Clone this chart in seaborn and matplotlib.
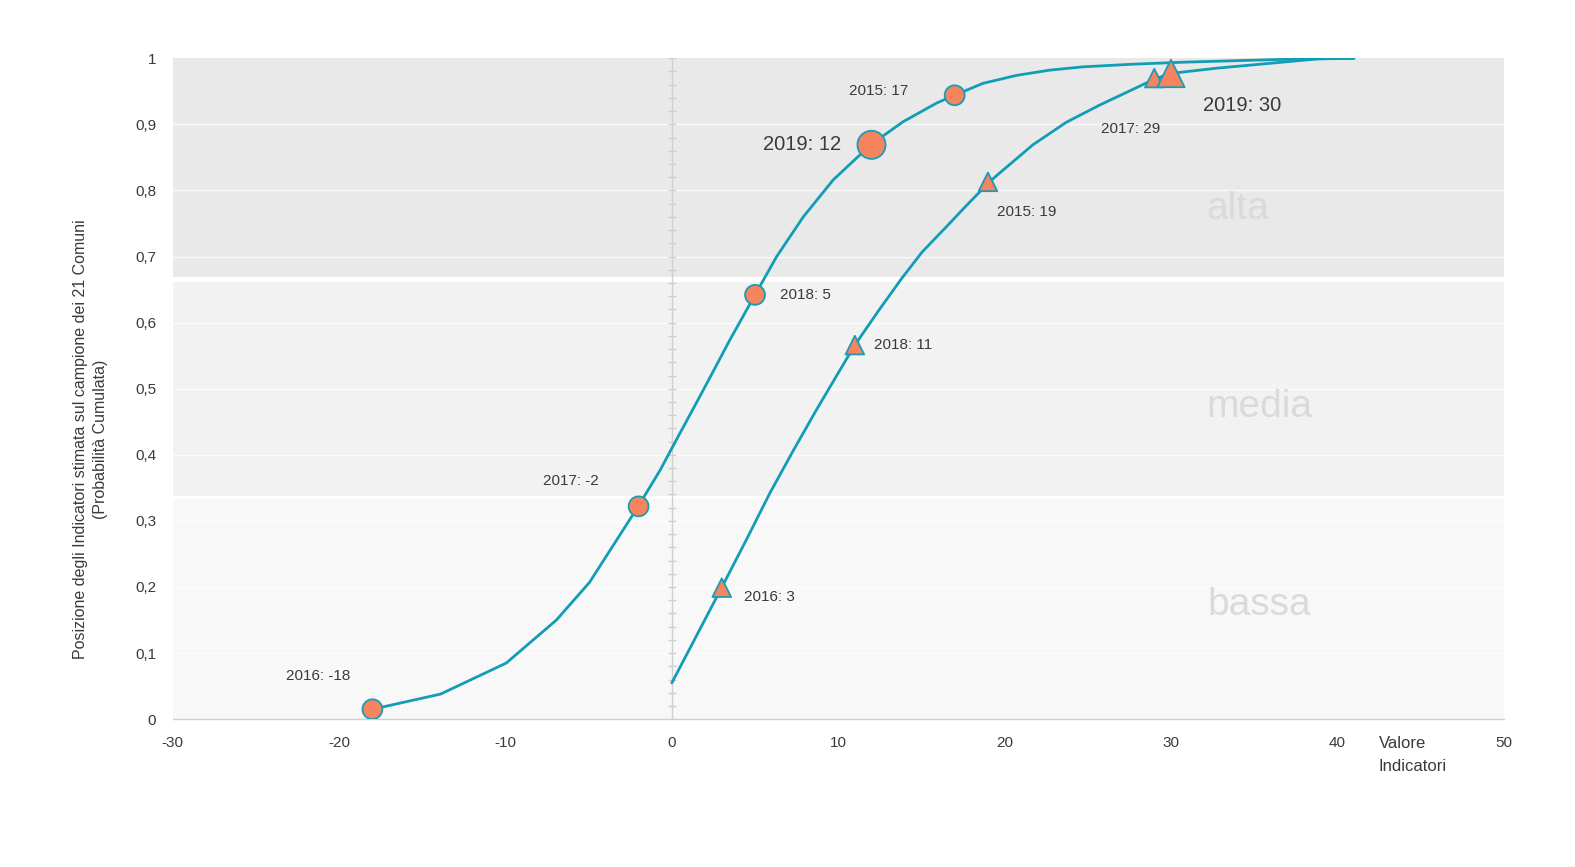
import matplotlib
matplotlib.use("Agg")
import matplotlib.pyplot as plt
import matplotlib.transforms as mtransforms
import numpy as np
import pandas as pd
import seaborn as sns

# ---------------- data ----------------
# curve A (circles)
curve_a_x = [-18, -13.9, -9.95, -6.94, -4.95, -2.02, -0.7, 0, 1.89, 3.49, 5.0, 6.3, 7.9, 9.7,
             11.95, 13.9, 15.9, 16.98, 18.7, 20.7, 22.7, 24.7, 27.7, 30.7, 34.8, 37.9, 41]
curve_a_y = [0.015, 0.038, 0.085, 0.150, 0.207, 0.322, 0.377, 0.410, 0.498, 0.574, 0.642, 0.700, 0.760, 0.816,
             0.869, 0.904, 0.932, 0.944, 0.962, 0.974, 0.982, 0.987, 0.991, 0.994, 0.997, 0.999, 1.0]
# curve B (triangles)
curve_b_x = [0, 1.29, 2.95, 4.49, 5.89, 7.29, 8.69, 10.1, 11.0, 12.45, 13.85, 15.05, 16.5, 17.7, 18.98,
             19.5, 21.7, 23.7, 25.7, 27.3, 28.97, 29.98, 32.75, 35.8, 38.8, 41]
curve_b_y = [0.055, 0.117, 0.197, 0.272, 0.342, 0.406, 0.468, 0.528, 0.566, 0.619, 0.668, 0.707, 0.745, 0.777,
             0.810, 0.822, 0.869, 0.903, 0.929, 0.948, 0.968, 0.977, 0.985, 0.992, 0.999, 1.0]

# points with labels
pts_a_year = ["2016", "2017", "2018", "2019", "2015"]
pts_a_x = [-18, -2, 5, 12, 17]
pts_a_y = [0.015, 0.322, 0.642, 0.869, 0.944]

pts_b_year = ["2016", "2018", "2015", "2017", "2019"]
pts_b_x = [3, 11, 19, 29, 30]
pts_b_y = [0.199, 0.566, 0.813, 0.970, 0.977]

band_names = ["bassa", "media", "alta"]
band_lo = [0.0, 0.338, 0.669]
band_hi = [0.333, 0.662, 1.0]

x_ticks = [-30, -20, -10, 0, 10, 20, 30, 40, 50]
y_ticks = [0, 0.1, 0.2, 0.3, 0.4, 0.5, 0.6, 0.7, 0.8, 0.9, 1.0]
y_tick_labels = ["0", "0,1", "0,2", "0,3", "0,4", "0,5", "0,6", "0,7", "0,8", "0,9", "1"]

# ---------------- style ----------------
sns.set_theme(style="white")
plt.rcParams["font.family"] = ["Liberation Sans Narrow", "Liberation Sans", "DejaVu Sans"]

LINE = "#119db6"
FILL = "#f5845f"
EDGE = "#1a9cb3"
TXT = "#3a3a3a"

fig = plt.figure(figsize=(15.75, 8.67), dpi=100)
ax = fig.add_axes([0.1097, 0.1705, 0.8450, 0.7623])

band_colors = ["#f8f8f8", "#f2f2f2", "#e9e9e9"]
for lo, hi, c in zip(band_lo, band_hi, band_colors):
    ax.axhspan(lo, hi, color=c, lw=0, zorder=0)
for yv in y_ticks[1:-1]:
    ax.axhline(yv, color="white", lw=1.0, alpha=0.8, zorder=0.5)

# band labels
band_label_x = [35.3, 35.3, 34.0]
band_label_y = [0.173, 0.473, 0.772]
for name, bx, by in zip(band_names, band_label_x, band_label_y):
    ax.text(bx, by, name, fontsize=28, color="#dadada", family=["Liberation Sans", "DejaVu Sans"],
            ha="center", va="center", zorder=0.6)

# vertical line at 0 with little ticks
ax.axvline(0, color="#cfcfcf", lw=1.0, zorder=1)
tick_y = np.arange(0, 1.001, 0.02)
ax.scatter(np.zeros_like(tick_y), tick_y, marker="_", s=40, color="#cfcfcf", lw=1.0, zorder=1)

# curves
dfa = pd.DataFrame({"x": curve_a_x, "y": curve_a_y})
dfb = pd.DataFrame({"x": curve_b_x, "y": curve_b_y})
sns.lineplot(data=dfa, x="x", y="y", ax=ax, color=LINE, lw=2.0, sort=False, zorder=3)
sns.lineplot(data=dfb, x="x", y="y", ax=ax, color=LINE, lw=2.0, sort=False, zorder=3)

# markers
size_a = [410 if y == "2019" else 205 for y in pts_a_year]
size_b = [390 if y == "2019" else 180 for y in pts_b_year]
ax.scatter(pts_a_x, pts_a_y, s=size_a, c=FILL, edgecolors=EDGE, linewidths=1.3, marker="o", zorder=4)
ax.scatter(pts_b_x, pts_b_y, s=size_b, c=FILL, edgecolors=EDGE, linewidths=1.3, marker="^", zorder=4)

# labels (offsets in points)
off_a = [(-39, 24, "center"), (-49, 18, "center"), (18, 0, "left"), (-22, 0, "right"), (-55, 3, "center")]
off_b = [(16, -6.5, "left"), (14, 0, "left"), (6.5, -22, "left"), (-17, -37, "center"), (23, -23, "left")]
for yr, x, y, (dx, dy, ha) in zip(pts_a_year, pts_a_x, pts_a_y, off_a):
    big = yr == "2019"
    ax.annotate(f"{yr}: {x}", (x, y), xytext=(dx, dy), textcoords="offset points",
                ha=ha, va="center", fontsize=14.5 if big else 11, color=TXT, zorder=5)
for yr, x, y, (dx, dy, ha) in zip(pts_b_year, pts_b_x, pts_b_y, off_b):
    big = yr == "2019"
    ax.annotate(f"{yr}: {x}", (x, y), xytext=(dx, dy), textcoords="offset points",
                ha=ha, va="center", fontsize=14.5 if big else 11, color=TXT, zorder=5)

# axes
ax.set_xlim(-30, 50)
ax.set_ylim(0, 1)
ax.set_xticks(x_ticks)
ax.set_xticklabels([str(v) for v in x_ticks])
ax.set_yticks(y_ticks)
ax.set_yticklabels(y_tick_labels)
ax.tick_params(axis="both", length=0, labelsize=11, labelcolor=TXT, pad=12)
for s in ["top", "right", "left"]:
    ax.spines[s].set_visible(False)
ax.spines["bottom"].set_color("#cfcfcf")
ax.spines["bottom"].set_linewidth(1.0)

ax.set_xlabel("")
ax.set_ylabel("Posizione degli Indicatori stimata sul campione dei 21 Comuni\n(Probabilità Cumulata)",
              fontsize=11.5, color=TXT, linespacing=1.45)
ax.yaxis.set_label_coords(-0.0483, 0.424)

trans = mtransforms.blended_transform_factory(ax.transData, ax.transAxes)
ax.text(42.5, -0.026, "Valore\nIndicatori", transform=trans, ha="left", va="top",
        fontsize=12, color=TXT, linespacing=1.6)

fig.savefig("out.png", dpi=100, facecolor="white")
